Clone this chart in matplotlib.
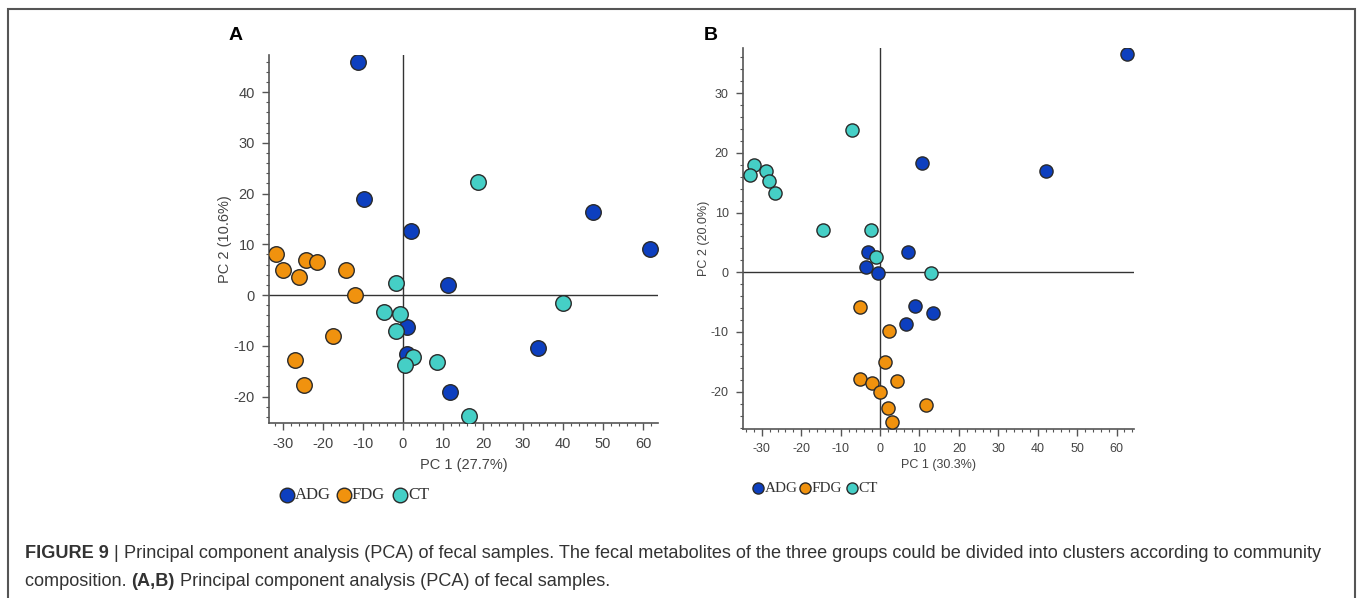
import matplotlib
matplotlib.use("Agg")
import matplotlib.pyplot as plt
from matplotlib.ticker import MultipleLocator
from matplotlib.lines import Line2D
from matplotlib.patches import Rectangle

# ---------------- data ----------------
groups = ["ADG", "FDG", "CT"]
colors = {"ADG": "#0d3fbf", "FDG": "#f0920e", "CT": "#45cfc6"}

# Panel A
a_adg_x = [-11.2, -9.7, 2.1, 11.2, 47.4, 61.75, 0.9, 1.1, 33.8, 11.75]
a_adg_y = [46.0, 18.9, 12.7, 2.0, 16.4, 9.1, -6.3, -11.6, -10.5, -19.1]
a_fdg_x = [-31.75, -29.9, -26.1, -24.25, -21.6, -14.3, -12.0, -17.4, -27.0, -24.7]
a_fdg_y = [8.0, 5.0, 3.6, 6.9, 6.6, 5.0, 0.0, -8.1, -12.8, -17.7]
a_ct_x = [18.75, -1.8, 39.9, -4.7, -0.75, -1.8, 2.6, 0.5, 8.5, 16.4]
a_ct_y = [22.2, 2.4, -1.6, -3.4, -3.8, -7.0, -12.1, -13.7, -13.2, -23.9]

# Panel B
b_adg_x = [62.6, 42.2, 10.7, 7.2, -3.0, -3.5, -0.6, 8.8, 13.5, 6.6]
b_adg_y = [36.6, 17.0, 18.3, 3.35, 3.4, 0.9, -0.1, -5.6, -6.9, -8.7]
b_fdg_x = [-5.2, 2.2, 1.35, -5.0, -2.0, 4.4, 0.0, 1.95, 11.6, 3.05]
b_fdg_y = [-5.9, -9.8, -15.0, -17.8, -18.6, -18.2, -20.1, -22.7, -22.2, -25.0]
b_ct_x = [-7.2, -31.9, -33.0, -28.9, -28.2, -26.6, -14.6, -2.4, -1.1, 12.9]
b_ct_y = [23.8, 18.0, 16.2, 16.9, 15.2, 13.2, 7.0, 7.0, 2.6, -0.1]

a_xlabel, a_ylabel = "PC 1 (27.7%)", "PC 2 (10.6%)"
b_xlabel, b_ylabel = "PC 1 (30.3%)", "PC 2 (20.0%)"

caption_bold1 = "FIGURE 9"
caption_bar = "|"
caption_rest1 = ("Principal component analysis (PCA) of fecal samples. The fecal metabolites of the three "
                 "groups could be divided into clusters according to community")
caption_line2a = "composition. "
caption_bold2 = "(A,B)"
caption_line2b = " Principal component analysis (PCA) of fecal samples."

# ---------------- figure ----------------
W, H = 1358, 598
plt.rcParams['font.family'] = ['Liberation Sans', 'DejaVu Sans']
plt.rcParams['axes.unicode_minus'] = False
fig = plt.figure(figsize=(W / 100, H / 100), dpi=100)

def fx(px):
    return px / W

def fy(py):
    return 1 - py / H

# outer frame
fig.patches.append(Rectangle((fx(8), fy(640)), fx(1355) - fx(8), fy(9) - fy(640),
                             transform=fig.transFigure, fill=False,
                             edgecolor="#555555", linewidth=1.5))

def make_panel(rect, data, xlim, ylim, yticks, xlabel, ylabel, ms, tfs, lfs, ylp, xlp):
    ax = fig.add_axes(rect)
    for g, (xs, ys) in zip(groups, data):
        ax.scatter(xs, ys, s=ms, color=colors[g], edgecolor="#2a2a2a",
                   linewidth=1.0, zorder=3)
    ax.axhline(0, color="#333333", lw=1.0, zorder=1)
    ax.axvline(0, color="#333333", lw=1.0, zorder=1)
    ax.set_xlim(*xlim)
    ax.set_ylim(*ylim)
    ax.set_xticks(range(-30, 61, 10))
    ax.set_yticks(yticks)
    ax.xaxis.set_minor_locator(MultipleLocator(2))
    ax.yaxis.set_minor_locator(MultipleLocator(2))
    for s in ["top", "right"]:
        ax.spines[s].set_visible(False)
    for s in ["left", "bottom"]:
        ax.spines[s].set_color("#555555")
        ax.spines[s].set_linewidth(1.2)
    ax.tick_params(which="major", direction="out", length=5, width=1.0,
                   color="#555555", labelsize=tfs, labelcolor="#444444", pad=5)
    ax.tick_params(which="minor", direction="out", length=2.5, width=0.8,
                   color="#555555")
    ax.set_xlabel(xlabel, fontsize=lfs, color="#444444", labelpad=xlp)
    ax.set_ylabel(ylabel, fontsize=lfs, color="#444444", labelpad=ylp)
    return ax

axA = make_panel([fx(269), fy(423), fx(658) - fx(269), fy(55) - fy(423)],
                 [(a_adg_x, a_adg_y), (a_fdg_x, a_fdg_y), (a_ct_x, a_ct_y)],
                 (-33.5, 63.75), (-25.2, 47.3), range(-20, 41, 10),
                 a_xlabel, a_ylabel, 125, 10.5, 10.5, 1.5, 5)
axB = make_panel([fx(742.7), fy(429), fx(1134.3) - fx(742.7), fy(48.3) - fy(429)],
                 [(b_adg_x, b_adg_y), (b_fdg_x, b_fdg_y), (b_ct_x, b_ct_y)],
                 (-34.85, 64.5), (-26.25, 37.5), range(-20, 31, 10),
                 b_xlabel, b_ylabel, 90, 9, 9, 0.5, 3)

fig.text(fx(229), fy(35), "A", fontsize=14, fontweight="bold", va="center", ha="left")
fig.text(fx(704), fy(35), "B", fontsize=14, fontweight="bold", va="center", ha="left")

# ---------------- legends (drawn in figure pixel positions) ----------------
def add_legend(x0, y0, dx, tdx, ms, fs):
    for i, g in enumerate(groups):
        cx = x0 + i * dx
        fig.add_artist(Line2D([fx(cx)], [fy(y0)], transform=fig.transFigure,
                              marker="o", linestyle="", markersize=ms,
                              markerfacecolor=colors[g], markeredgecolor="#2a2a2a",
                              markeredgewidth=1.0))
        fig.text(fx(cx + tdx), fy(y0), g, fontsize=fs, color="#333333",
                 family="Liberation Serif", va="center", ha="left")

add_legend(287, 495, 56.5, 8, 10.5, 12)
add_legend(758, 488, 47, 6.5, 8.0, 11)

# ---------------- caption ----------------
cap_fs = 13.05
cap_col = "#333333"
renderer = fig.canvas.get_renderer()

def put(x_px, y_px, s, bold=False):
    t = fig.text(fx(x_px), fy(y_px), s, fontsize=cap_fs, color=cap_col, va="center",
                 ha="left", fontweight="bold" if bold else "normal")
    bb = t.get_window_extent(renderer=renderer)
    return x_px + bb.width

x = put(25, 553, caption_bold1, bold=True)
x = put(x + 5, 553, caption_bar, bold=False)
x = put(x + 5, 553, caption_rest1)
x = put(25, 581, caption_line2a)
x = put(x, 581, caption_bold2, bold=True)
x = put(x, 581, caption_line2b)

fig.savefig("out.png", dpi=100)
